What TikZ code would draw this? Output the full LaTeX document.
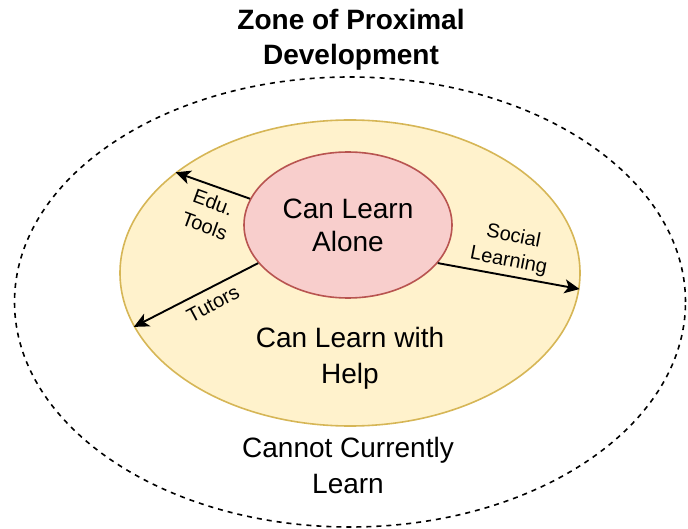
\documentclass[tikz,border=0pt]{standalone}
\usepackage{fontspec}
\setmainfont{Liberation Sans}
\usetikzlibrary{shapes,arrows.meta,positioning}

\definecolor{helpfill}{HTML}{FFF2CC}
\definecolor{helpline}{HTML}{D6B656}
\definecolor{alonefill}{HTML}{F8CECC}
\definecolor{aloneline}{HTML}{B85450}

\begin{document}
\begin{tikzpicture}[
    x=1pt, y=-1pt,
    zone/.style={ellipse, draw, line width=1.6pt, inner sep=0pt, align=center},
    zonetext/.style={font=\fontsize{28}{36}\selectfont, align=center},
    pathtext/.style={font=\fontsize{20}{25}\selectfont, align=center, inner sep=0pt},
    arrow/.style={-{Stealth[length=15pt,width=14pt,inset=4pt]}, line width=1.9pt}
]
    \useasboundingbox (0,0) rectangle (688,529);

    \node[zonetext, font=\fontsize{28}{35}\selectfont\bfseries] (title) at (351,40) {Zone of Proximal\\Development};

    \node[zone, dash pattern=on 5pt off 5pt, minimum width=671pt, minimum height=450pt] (outer) at (350,302) {};
    \node[zone, draw=helpline, fill=helpfill, minimum width=460pt, minimum height=306pt] (helpzone) at (350,273) {};
    \node[zone, draw=aloneline, fill=alonefill, minimum width=208pt, minimum height=146pt,
          font=\fontsize{28}{33}\selectfont] (alone) at (348,225) {Can Learn\\Alone};

    \node[zonetext] (withhelp) at (350,358) {Can Learn with\\Help};
    \node[zonetext] (cannot) at (348,465) {Cannot Currently\\Learn};

    \draw[arrow] (alone.165) -- (helpzone.150);
    \draw[arrow] (alone.203) -- (helpzone.194.5);
    \draw[arrow] (alone.337) -- (helpzone.356);

    \node[pathtext, rotate=-20] (edu) at (209,214) {Edu.\\Tools};
    \node[pathtext, rotate=28] (tutors) at (213,304) {Tutors};
    \node[pathtext, rotate=-11] (social) at (511,249) {Social\\Learning};
\end{tikzpicture}
\end{document}
